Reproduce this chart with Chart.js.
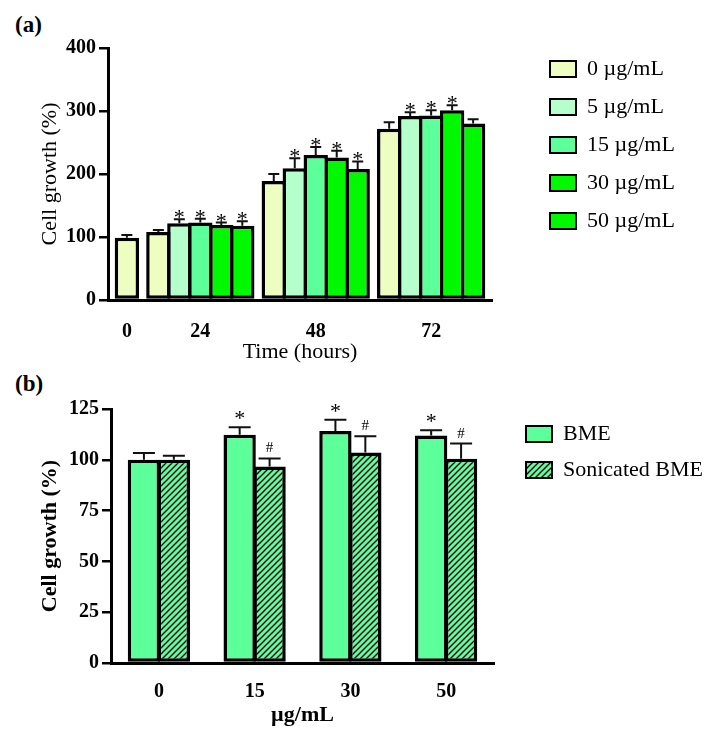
<!DOCTYPE html>
<html lang="en">
<head>
  <meta charset="UTF-8">
  <title>Cell growth</title>
  <script src="https://cdn.jsdelivr.net/npm/chart.js"></script>
  <style>
    body {
      margin: 0;
      background: #fff;
      font-family: "Liberation Serif", serif;
    }

    .page {
      position: relative;
      width: 714px;
      height: 729px;
    }

    .page canvas {
      position: absolute;
      left: 0;
    }

    .panel {
      position: absolute;
      left: 15px;
      font: bold 23px/26px "Liberation Serif", serif;
    }
  </style>
</head>
<body>
  <div class="page">
    <div class="panel" style="top: 12px">(a)</div>
    <div class="panel" style="top: 371px">(b)</div>
    <canvas id="chartA" width="714" height="365" style="top: 0"></canvas>
    <canvas id="chartB" width="714" height="364" style="top: 365px"></canvas>
  </div>

  <script>
    // (a) growth over time for each dose
    const timeLabels = ['0', '24', '48', '72'];
    const doseLabels = ['0 µg/mL', '5 µg/mL', '15 µg/mL', '30 µg/mL', '50 µg/mL'];

    const growth0  = [99, 108, 189, 272];
    const growth5  = [null, 122, 209, 292];
    const growth15 = [null, 123, 230, 293];
    const growth30 = [null, 119, 226, 301];
    const growth50 = [null, 118, 208, 280];

    const err0  = [4, 3, 11, 10];
    const err5  = [null, 6, 16, 6];
    const err15 = [null, 6, 13, 8];
    const err30 = [null, 4, 11, 8];
    const err50 = [null, 7, 12, 7];

    const mark0  = ['', '', '', ''];
    const mark5  = ['', '*', '*', '*'];
    const mark15 = ['', '*', '*', '*'];
    const mark30 = ['', '*', '*', '*'];
    const mark50 = ['', '*', '*', ''];

    const yTicksA = [0, 100, 200, 300, 400];

    // (b) BME vs sonicated BME
    const doseB = ['0', '15', '30', '50'];
    const bme       = [100, 112.3, 114.2, 112];
    const bmeErr    = [3.3, 3.7, 5.5, 2.5];
    const bmeMark   = ['', '*', '*', '*'];
    const sonic     = [100, 96.7, 103.6, 100.5];
    const sonicErr  = [2, 4, 8, 7.5];
    const sonicMark = ['', '#', '#', '#'];

    const yTicksB = [0, 25, 50, 75, 100, 125];

    const doseColors = ['#EEFDC0', '#B4FFCC', '#5CFF99', '#00F800', '#00F800'];
    const bmeColor = '#5CFF99';

    Chart.defaults.font.family = "'Liberation Serif', serif";
    Chart.defaults.color = '#000';

    const serif = "'Liberation Serif', serif";

    function hatch(color) {
      const c = document.createElement('canvas');
      c.width = 6; c.height = 6;
      const g = c.getContext('2d');
      g.fillStyle = color;
      g.fillRect(0, 0, 6, 6);
      g.strokeStyle = '#000';
      g.lineWidth = 1.3;
      g.beginPath();
      g.moveTo(-1, 7); g.lineTo(7, -1);
      g.moveTo(-1, 1); g.lineTo(1, -1);
      g.moveTo(5, 7); g.lineTo(7, 5);
      g.stroke();
      return g.createPattern(c, 'repeat');
    }

    function textWidth(list, font) {
      const g = document.createElement('canvas').getContext('2d');
      g.font = font;
      return Math.max(...list.map(t => g.measureText(t).width));
    }

    // one-sided error bars plus significance marks
    const errorBars = {
      id: 'errorBars',
      afterDatasetsDraw(chart, args, opts) {
        const ctx = chart.ctx;
        const yScale = chart.scales.y;
        chart.data.datasets.forEach((ds, i) => {
          const meta = chart.getDatasetMeta(i);
          meta.data.forEach((bar, j) => {
            const v = meta.controller.getParsed(j).y;
            const top = yScale.getPixelForValue(v + ds.errors[j]);
            ctx.save();
            ctx.strokeStyle = '#111';
            ctx.lineWidth = opts.lineWidth;
            ctx.beginPath();
            ctx.moveTo(bar.x, bar.y);
            ctx.lineTo(bar.x, top);
            ctx.moveTo(bar.x - opts.cap / 2, top);
            ctx.lineTo(bar.x + opts.cap / 2, top);
            ctx.stroke();
            const m = ds.marks[j];
            if (m) {
              const st = opts.marks[m];
              ctx.fillStyle = '#000';
              ctx.font = st.font;
              ctx.textAlign = 'center';
              ctx.textBaseline = 'alphabetic';
              ctx.fillText(m, bar.x, top + st.offset);
            }
            ctx.restore();
          });
        });
      }
    };

    function legendLabels(chart) {
      return Chart.defaults.plugins.legend.labels.generateLabels(chart)
        .map(l => ({ ...l, lineWidth: 2, strokeStyle: '#000' }));
    }

    // ---------- chart (a) ----------
    const growthA = [growth0, growth5, growth15, growth30, growth50];
    const errA = [err0, err5, err15, err30, err50];
    const markA = [mark0, mark5, mark15, mark30, mark50];

    // bar slots along a linear axis, one unit per bar
    const EDGE = 0.4, GAP = 0.5;
    let cursor = EDGE;
    const groupCenters = [];
    const slot = doseLabels.map(() => []);
    timeLabels.forEach((t, g) => {
      if (g > 0) cursor += GAP;
      const start = cursor;
      growthA.forEach((vals, s) => {
        if (vals[g] == null) return;
        slot[s][g] = cursor + 0.5;
        cursor += 1;
      });
      groupCenters.push((start + cursor) / 2);
    });
    const xMaxA = cursor + EDGE;

    const datasetsA = doseLabels.map((label, s) => {
      const pts = [], errs = [], marks = [];
      timeLabels.forEach((t, g) => {
        if (growthA[s][g] == null) return;
        pts.push({ x: slot[s][g], y: growthA[s][g] });
        errs.push(errA[s][g]);
        marks.push(markA[s][g]);
      });
      return {
        label, data: pts, errors: errs, marks,
        backgroundColor: doseColors[s],
        borderColor: '#000',
        borderWidth: 3.5,
        borderSkipped: false,
        grouped: false,
        categoryPercentage: 1,
        barPercentage: 1.16,   // neighbours share one border
        xAxisID: 'x',
        yAxisID: 'y'
      };
    });

    const legFontA = '22px ' + serif;
    const legWA = 16 + 26 + 11 + textWidth(doseLabels, legFontA) + 10;

    new Chart(document.getElementById('chartA'), {
      type: 'bar',
      data: { datasets: datasetsA },
      plugins: [errorBars],
      options: {
        responsive: false,
        animation: false,
        events: [],
        layout: { padding: { top: 42, left: 0, bottom: 0, right: 714 - 534 - legWA } },
        scales: {
          x: {
            type: 'linear',
            offset: false,
            min: 0,
            max: xMaxA,
            afterBuildTicks: s => { s.ticks = groupCenters.map(v => ({ value: v })); },
            afterFit: s => { s.height = 65; },
            grid: { display: false, drawTicks: false },
            border: { display: true, color: '#000', width: 3 },
            ticks: {
              autoSkip: false, maxRotation: 0, padding: 20,
              font: { size: 20, weight: 'bold' },
              callback: (v, i) => timeLabels[i]
            },
            title: { display: true, text: 'Time (hours)', font: { size: 22 }, padding: { top: 0, bottom: 0 } }
          },
          y: {
            min: 0, max: 400,
            afterBuildTicks: s => { s.ticks = yTicksA.map(v => ({ value: v })); },
            afterFit: s => { s.width = 108; },
            grid: { drawOnChartArea: false, drawTicks: true, tickLength: 9, color: '#000', lineWidth: 2.5 },
            border: { display: true, color: '#000', width: 3 },
            ticks: { padding: 3, font: { size: 20, weight: 'bold' } },
            title: { display: true, text: 'Cell growth (%)', font: { size: 22 }, padding: { top: 37, bottom: 0 } }
          },
          gapTop: {
            type: 'linear', position: 'top', display: true,
            grid: { display: false }, ticks: { display: false }, border: { display: false },
            afterFit: s => { s.height = 6; }
          },
          gapRight: {
            type: 'linear', position: 'right', display: true,
            grid: { display: false }, ticks: { display: false }, border: { display: false },
            afterFit: s => { s.width = 42; }
          }
        },
        plugins: {
          legend: {
            position: 'right',
            align: 'start',
            maxWidth: 400,
            labels: {
              boxWidth: 26, boxHeight: 16, padding: 16,
              font: { size: 22 },
              generateLabels: legendLabels
            }
          },
          tooltip: { enabled: false },
          errorBars: {
            cap: 11, lineWidth: 2,
            marks: { '*': { font: '22px ' + serif, offset: 5 } }
          }
        }
      }
    });

    // ---------- chart (b) ----------
    const legFontB = '22px ' + serif;
    const legWB = 14 + 26 + 11 + textWidth(['BME', 'Sonicated BME'], legFontB) + 10;

    new Chart(document.getElementById('chartB'), {
      type: 'bar',
      data: {
        labels: doseB,
        datasets: [
          {
            label: 'BME', data: bme, errors: bmeErr, marks: bmeMark,
            backgroundColor: bmeColor, borderColor: '#000', borderWidth: 3.5, borderSkipped: false
          },
          {
            label: 'Sonicated BME', data: sonic, errors: sonicErr, marks: sonicMark,
            backgroundColor: hatch(bmeColor), borderColor: '#000', borderWidth: 3.5, borderSkipped: false
          }
        ]
      },
      plugins: [errorBars],
      options: {
        responsive: false,
        animation: false,
        events: [],
        categoryPercentage: 0.625,
        barPercentage: 1.08,
        layout: { padding: { top: 44, left: 0, bottom: 0, right: 714 - 512 - legWB } },
        scales: {
          x: {
            afterFit: s => { s.height = 66; },
            grid: { display: false, drawTicks: false },
            border: { display: true, color: '#000', width: 3 },
            ticks: { padding: 17, font: { size: 20, weight: 'bold' } },
            title: { display: true, text: 'µg/mL', font: { size: 22, weight: 'bold' }, padding: { top: 0, bottom: 0 } }
          },
          y: {
            min: 0, max: 125,
            afterBuildTicks: s => { s.ticks = yTicksB.map(v => ({ value: v })); },
            afterFit: s => { s.width = 111; },
            grid: { drawOnChartArea: false, drawTicks: true, tickLength: 9, color: '#000', lineWidth: 2.5 },
            border: { display: true, color: '#000', width: 3 },
            ticks: { padding: 3, font: { size: 20, weight: 'bold' } },
            title: { display: true, text: 'Cell growth (%)', font: { size: 22, weight: 'bold' }, padding: { top: 37, bottom: 0 } }
          },
          gapRight: {
            type: 'linear', position: 'right', display: true,
            grid: { display: false }, ticks: { display: false }, border: { display: false },
            afterFit: s => { s.width = 18; }
          }
        },
        plugins: {
          legend: {
            position: 'right',
            align: 'start',
            maxWidth: 400,
            labels: {
              boxWidth: 26, boxHeight: 16, padding: 14,
              font: { size: 22 },
              generateLabels: legendLabels
            }
          },
          tooltip: { enabled: false },
          errorBars: {
            cap: 22, lineWidth: 2,
            marks: {
              '*': { font: '22px ' + serif, offset: -2 },
              '#': { font: '15px ' + serif, offset: -6 }
            }
          }
        }
      }
    });
  </script>
</body>
</html>
